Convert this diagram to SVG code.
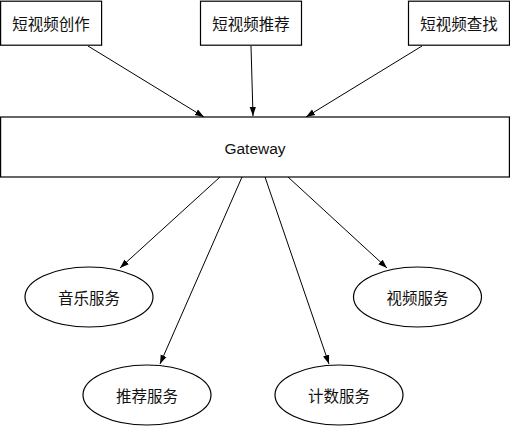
<svg xmlns="http://www.w3.org/2000/svg" width="510" height="426" viewBox="0 0 510 426">
<style>
.box{fill:#fff;stroke:#000;stroke-width:1.2}
.t{font-family:"Liberation Sans","Noto Sans CJK SC",sans-serif;font-size:15.5px;fill:#111;text-anchor:middle;dominant-baseline:central}
.c{stroke:#000;stroke-width:1;fill:none;marker-end:url(#ah)}
</style>
<defs>
<marker id="ah" viewBox="0 0 10 10" refX="10" refY="5" markerWidth="9" markerHeight="9" markerUnits="userSpaceOnUse" orient="auto">
<path d="M0,1.5 L10,5 L0,8.5 Z" fill="#000"/>
</marker>
</defs>
<rect width="510" height="426" fill="#fff"/>
<g id="connectors">
<line class="c" x1="88" y1="46" x2="204" y2="117"/>
<line class="c" x1="251" y1="46" x2="253" y2="116"/>
<line class="c" x1="422" y1="46" x2="306" y2="117"/>
<line class="c" x1="220" y1="177" x2="120" y2="268"/>
<line class="c" x1="242" y1="177" x2="160" y2="364"/>
<line class="c" x1="265" y1="177" x2="329" y2="364"/>
<line class="c" x1="288" y1="177" x2="387" y2="268"/>
</g>
<g id="n1"><rect class="box" x="0.6" y="1.2" width="101" height="44"/><text class="t" x="51" y="24">短视频创作</text></g>
<g id="n2"><rect class="box" x="200.5" y="1.2" width="101" height="44"/><text class="t" x="251" y="24">短视频推荐</text></g>
<g id="n3"><rect class="box" x="408.5" y="1.2" width="101" height="44"/><text class="t" x="459" y="24">短视频查找</text></g>
<g id="gateway"><rect class="box" x="0.6" y="117" width="508.8" height="60"/><text class="t" x="255" y="148">Gateway</text></g>
<g id="s1"><ellipse class="box" cx="89" cy="297" rx="64" ry="30"/><text class="t" x="89" y="298">音乐服务</text></g>
<g id="s2"><ellipse class="box" cx="417.5" cy="297" rx="64" ry="30"/><text class="t" x="417.5" y="298">视频服务</text></g>
<g id="s3"><ellipse class="box" cx="147" cy="395" rx="64" ry="30"/><text class="t" x="147" y="396">推荐服务</text></g>
<g id="s4"><ellipse class="box" cx="339" cy="395" rx="64" ry="30"/><text class="t" x="339" y="396">计数服务</text></g>
</svg>
